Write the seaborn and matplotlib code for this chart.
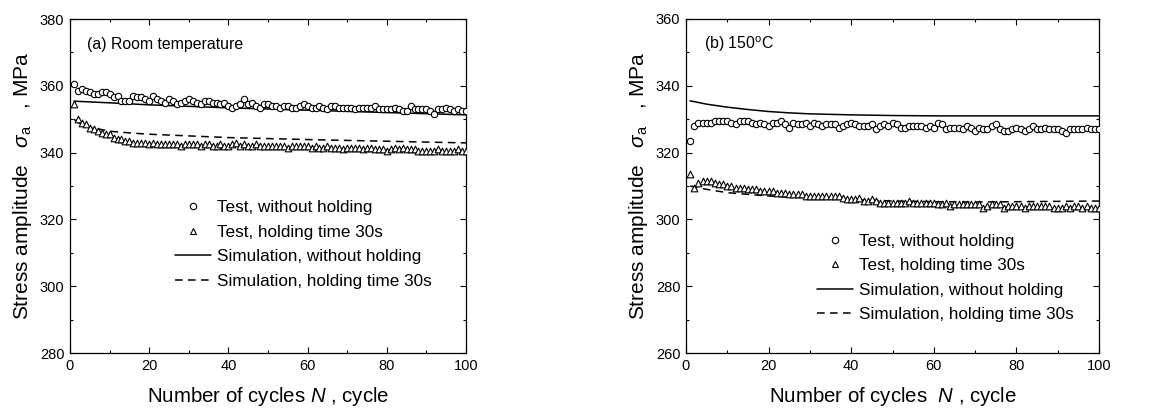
import numpy as np
import pandas as pd
import matplotlib
matplotlib.use("Agg")
import matplotlib.pyplot as plt
from matplotlib.lines import Line2D
from matplotlib.ticker import MultipleLocator
import seaborn as sns

# ---------------- data ----------------
cycles = list(range(1, 101))

a_test_no_hold = [360.5, 358.5, 359.0, 358.5, 358.0, 357.5, 357.5, 358.0, 358.0, 357.5,
                  356.5, 357.0, 355.5, 355.5, 355.5, 357.0, 356.5, 356.5, 356.0, 355.5,
                  357.0, 356.0, 355.5, 355.0, 356.0, 355.5, 354.5, 355.0, 355.5, 356.0,
                  355.5, 355.0, 354.5, 355.5, 355.5, 355.0, 355.0, 354.5, 355.0, 354.0,
                  353.5, 354.0, 354.5, 356.0, 354.5, 355.0, 354.0, 353.5, 354.5, 354.5,
                  354.0, 354.0, 353.5, 354.0, 354.0, 353.5, 353.5, 354.0, 354.5, 354.0,
                  353.5, 353.5, 354.0, 353.5, 353.0, 354.0, 354.0, 353.5, 353.5, 353.5,
                  353.5, 353.0, 353.5, 353.5, 353.5, 353.5, 354.0, 353.0, 353.0, 353.0,
                  353.0, 353.5, 353.0, 352.5, 352.5, 354.0, 353.0, 353.0, 353.0, 353.0,
                  352.5, 351.5, 353.0, 353.0, 353.5, 353.0, 352.5, 353.0, 352.5, 352.5]

a_test_hold = [354.5, 350.0, 349.0, 348.5, 347.5, 347.0, 346.5, 346.0, 345.5, 345.5,
               344.5, 344.0, 344.0, 343.5, 343.5, 343.0, 343.0, 343.0, 343.0, 342.5,
               343.0, 342.5, 342.5, 342.5, 342.5, 342.5, 342.5, 342.0, 342.5, 342.5,
               342.5, 342.5, 342.0, 342.5, 342.5, 342.0, 342.0, 342.5, 342.0, 342.0,
               342.5, 343.0, 342.0, 342.5, 342.0, 342.0, 342.5, 342.0, 342.0, 342.0,
               342.0, 342.0, 342.0, 342.0, 341.5, 342.0, 342.0, 342.0, 342.0, 342.0,
               341.5, 342.0, 341.5, 341.5, 342.0, 341.5, 341.5, 341.5, 341.0, 341.5,
               341.5, 341.5, 341.5, 341.0, 341.5, 341.5, 341.0, 341.0, 341.0, 340.5,
               341.0, 341.5, 341.0, 341.5, 341.0, 341.0, 341.0, 340.5, 340.5, 340.5,
               340.5, 340.5, 341.0, 340.5, 340.5, 340.5, 340.5, 341.0, 340.5, 340.5]

a_sim_no_hold_N = [1, 10, 20, 40, 60, 80, 100]
a_sim_no_hold = [355.4, 354.9, 354.3, 353.4, 352.7, 352.0, 351.3]
a_sim_hold_N = [1, 2, 5, 10, 15, 20, 40, 60, 80, 100]
a_sim_hold = [350.0, 349.0, 347.6, 346.4, 345.9, 345.5, 344.5, 343.9, 343.4, 342.9]

b_test_no_hold = [323.5, 328.0, 329.0, 329.0, 329.0, 329.0, 329.5, 329.5, 329.5, 329.5,
                  329.0, 328.5, 329.5, 329.5, 329.5, 329.0, 328.5, 329.0, 328.5, 328.0,
                  329.0, 329.0, 329.5, 328.5, 327.5, 329.0, 328.5, 328.5, 329.0, 328.0,
                  329.0, 328.5, 328.0, 328.5, 328.5, 328.5, 327.5, 328.0, 328.5, 329.0,
                  328.5, 328.0, 328.0, 328.0, 328.5, 327.0, 328.0, 328.5, 328.0, 329.0,
                  328.5, 327.5, 327.5, 328.0, 328.0, 328.0, 328.0, 327.5, 328.0, 327.5,
                  329.0, 328.5, 327.0, 327.5, 327.5, 327.5, 327.0, 328.0, 327.5, 326.5,
                  327.5, 327.0, 327.0, 328.0, 328.5, 327.0, 326.5, 326.5, 327.0, 327.5,
                  327.0, 326.5, 327.0, 328.0, 327.0, 327.0, 327.5, 327.0, 327.0, 327.0,
                  326.5, 326.0, 327.0, 327.0, 327.0, 327.0, 327.5, 327.0, 327.0, 327.0]

b_test_hold = [313.5, 309.5, 311.0, 311.5, 311.5, 311.5, 311.0, 310.5, 310.5, 310.0,
               310.0, 309.5, 309.5, 309.5, 309.0, 309.0, 309.0, 308.5, 308.5, 308.5,
               308.5, 308.0, 308.0, 308.0, 307.5, 307.5, 307.5, 307.5, 307.0, 307.0,
               307.0, 307.0, 307.0, 307.0, 307.0, 307.0, 307.0, 306.5, 306.0, 306.0,
               306.0, 306.5, 305.5, 305.5, 306.0, 305.5, 305.0, 305.0, 305.0, 305.0,
               305.0, 305.0, 305.0, 305.5, 305.0, 305.0, 305.0, 305.0, 305.0, 305.0,
               304.5, 304.5, 305.0, 304.0, 304.5, 304.5, 304.5, 304.5, 304.5, 304.5,
               304.5, 303.5, 304.0, 304.5, 304.5, 304.5, 303.5, 304.0, 304.0, 304.0,
               304.0, 303.5, 304.0, 304.0, 304.0, 304.0, 304.0, 304.0, 303.5, 303.5,
               303.5, 304.0, 303.5, 304.0, 304.0, 303.5, 304.0, 303.5, 303.5, 303.5]

b_sim_no_hold_N = [1, 5, 10, 15, 20, 25, 30, 40, 50, 60, 80, 100]
b_sim_no_hold = [335.5, 334.5, 333.6, 332.9, 332.3, 331.9, 331.6, 331.3, 331.1, 331.0, 331.0, 331.0]
b_sim_hold_N = [1, 5, 10, 20, 30, 40, 50, 60, 70, 80, 100]
b_sim_hold = [310.0, 309.0, 308.0, 307.0, 306.4, 305.9, 305.5, 305.3, 305.2, 305.3, 305.5]

labels = ["Test, without holding", "Test, holding time 30s",
          "Simulation, without holding", "Simulation, holding time 30s"]

# ---------------- style ----------------
sns.set_style("ticks")
plt.rcParams['font.family'] = ['Liberation Sans', 'DejaVu Sans']
plt.rcParams['mathtext.fontset'] = 'custom'
plt.rcParams['mathtext.rm'] = 'Liberation Sans'
plt.rcParams['mathtext.it'] = 'Liberation Sans:italic'
plt.rcParams['mathtext.bf'] = 'Liberation Sans:bold'
for k in ['text.color', 'axes.labelcolor', 'xtick.color', 'ytick.color', 'axes.edgecolor']:
    plt.rcParams[k] = 'black'

fig = plt.figure(figsize=(11.65, 4.11), dpi=100)
axA = fig.add_axes([70 / 1165, 58 / 411, 396 / 1165, 334 / 411])
axB = fig.add_axes([686 / 1165, 58 / 411, 413 / 1165, 334 / 411])


def draw(ax, t_no, t_hold, sn_N, sn, sh_N, sh, ylim, title, leg_anchor, xlabel):
    df_no = pd.DataFrame({"N": cycles, "s": t_no})
    df_h = pd.DataFrame({"N": cycles, "s": t_hold})
    sns.lineplot(x=sn_N, y=sn, ax=ax, color="black", lw=1.1, estimator=None)
    sns.lineplot(x=sh_N, y=sh, ax=ax, color="black", lw=1.1, estimator=None,
                 linestyle=(0, (5, 3.5)))
    sns.scatterplot(data=df_no, x="N", y="s", ax=ax, marker="o", s=21,
                    facecolor="white", edgecolor="black", linewidth=0.8, zorder=3)
    sns.scatterplot(data=df_h, x="N", y="s", ax=ax, marker="^", s=23,
                    facecolor="white", edgecolor="black", linewidth=0.8, zorder=3)
    ax.set_xlim(0, 100)
    ax.set_ylim(*ylim)
    ax.xaxis.set_major_locator(MultipleLocator(20))
    ax.xaxis.set_minor_locator(MultipleLocator(10))
    ax.yaxis.set_major_locator(MultipleLocator(20))
    ax.yaxis.set_minor_locator(MultipleLocator(10))
    ax.tick_params(which="both", direction="in", top=True, right=True,
                   labelsize=10.5, colors="black", width=0.8)
    ax.tick_params(which="major", length=4, pad=4)
    ax.tick_params(which="minor", length=2.5)
    for sp in ax.spines.values():
        sp.set_linewidth(0.9)
        sp.set_color("black")
    ax.set_xlabel(xlabel, fontsize=14.7, labelpad=9)
    ax.set_ylabel(r"Stress amplitude   $\sigma_{\rm a}$   , MPa", fontsize=15, labelpad=4)
    ax.text(0.044, 0.925, title, transform=ax.transAxes, fontsize=11.4,
            ha="left", va="center")
    handles = [
        Line2D([], [], ls="none", marker="o", ms=4.6, mfc="white", mec="black", mew=0.8),
        Line2D([], [], ls="none", marker="^", ms=4.8, mfc="white", mec="black", mew=0.8),
        Line2D([], [], color="black", lw=1.1),
        Line2D([], [], color="black", lw=1.1, ls=(0, (5, 3.5))),
    ]
    ax.legend(handles, labels, loc="center left", bbox_to_anchor=leg_anchor,
              frameon=False, fontsize=12.3, handlelength=2.1, handletextpad=0.35,
              labelspacing=0.55, borderpad=0, borderaxespad=0)


draw(axA, a_test_no_hold, a_test_hold, a_sim_no_hold_N, a_sim_no_hold,
     a_sim_hold_N, a_sim_hold, (280, 380), "(a) Room temperature",
     (0.265, 0.325), r"Number of cycles $N$ , cycle")
draw(axB, b_test_no_hold, b_test_hold, b_sim_no_hold_N, b_sim_no_hold,
     b_sim_hold_N, b_sim_hold, (260, 360), r"(b) 150$^{\rm o}$C",
     (0.317, 0.225), r"Number of cycles  $N$ , cycle")

fig.savefig("out.png", dpi=100)
